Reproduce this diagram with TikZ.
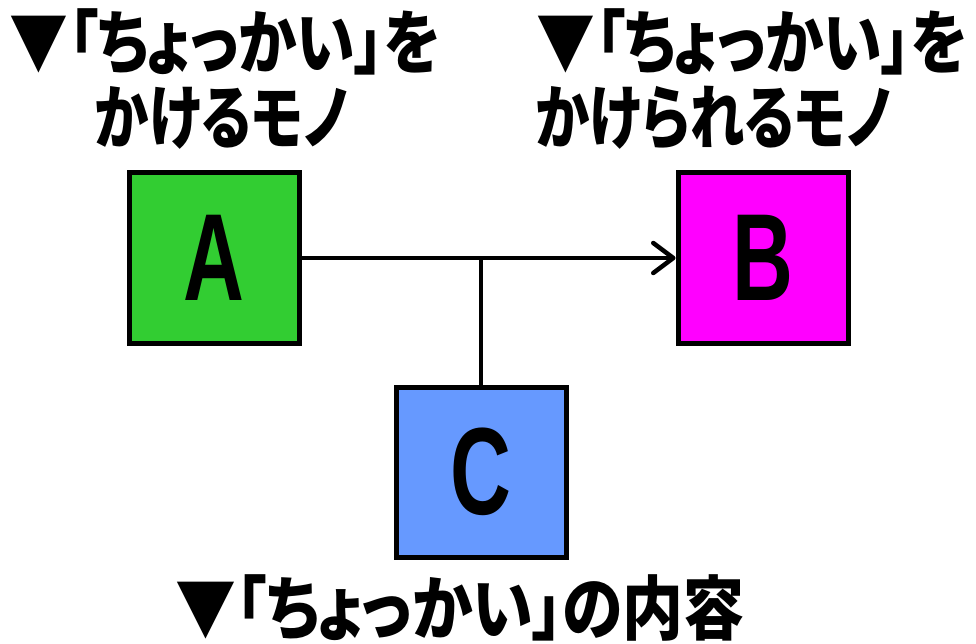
\documentclass[tikz,border=0pt]{standalone}
\usepackage{fontspec}
\usepackage{graphicx}
\setmainfont{Liberation Sans}
\newfontfamily\jp[RawFeature=+palt]{Noto Sans CJK JP}
\usetikzlibrary{arrows.meta}
\definecolor{boxgreen}{RGB}{50,205,50}
\definecolor{boxmagenta}{RGB}{255,0,255}
\definecolor{boxblue}{RGB}{102,153,255}
% narrow bold Japanese caption text
\newcommand{\jpcap}[2]{\scalebox{#1}[1]{#2}}
\begin{document}
\begin{tikzpicture}[x=1pt,y=-1pt,
  box/.style={draw=black, line width=5pt, minimum size=170pt, inner sep=0pt,
    font=\bfseries\fontsize{124}{124}\selectfont},
  caption/.style={font=\jp\bfseries\fontsize{70}{74}\selectfont, inner sep=0pt},
  link/.style={line width=4.5pt}]
\useasboundingbox (0,0) rectangle (976,644);

% the three boxes
\node[box, fill=boxgreen]   (A) at (214,258) {\scalebox{0.68}[1]{A}};
\node[box, fill=boxmagenta] (B) at (763,258) {\scalebox{0.68}[1]{B}};
\node[box, fill=boxblue]    (C) at (481,472) {\scalebox{0.68}[1]{C}};

% A acts on B, C joins the arrow from below
\draw[link, -{Straight Barb[length=20pt,width=30pt,line width=4.5pt,round]}]
  (A.east) -- (B.west);
\draw[link] (C.north) -- (C.north |- A.east);

% captions
\node[caption, anchor=base] (a1) at (225,69) {\jpcap{0.84}{▼「ちょっかい」を}};
\node[caption, anchor=base] (a2) at (221,144) {\jpcap{0.78}{かけるモノ}};
\node[caption, anchor=base] (b1) at (752,69) {\jpcap{0.84}{▼「ちょっかい」を}};
\node[caption, anchor=base] (b2) at (713,144) {\jpcap{0.78}{かけられるモノ}};
\node[caption, anchor=base] (c1) at (460,634) {\jpcap{0.87}{▼「ちょっかい」の内容}};
\end{tikzpicture}
\end{document}
